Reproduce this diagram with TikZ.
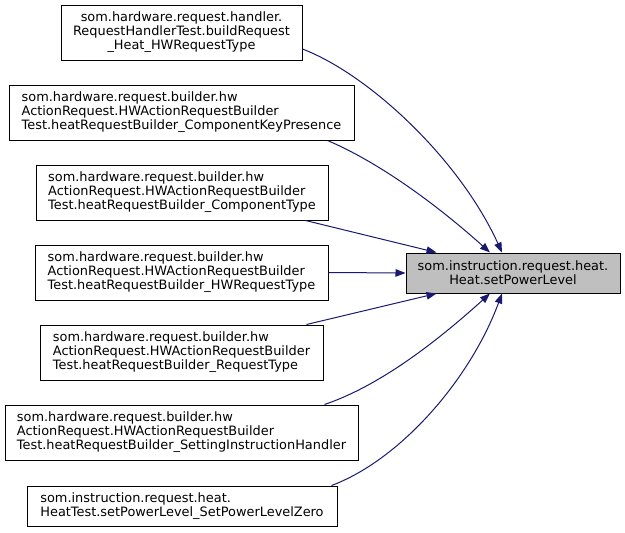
\documentclass[tikz,border=0pt]{standalone}
\usepackage{fontspec}
\setmainfont{DejaVu Sans}
\usepackage{tikz}
\usetikzlibrary{arrows.meta, positioning, calc}

\begin{document}
\begin{tikzpicture}[
    x=1pt, y=-1pt,
    >={Triangle[length=10pt, width=7.5pt]},
    every node/.style={font=\fontsize{12.9}{14}\selectfont},
    caller/.style={draw, rectangle, line width=1pt, fill=white, inner sep=0pt,
                   minimum height=55pt, align=left},
    callee/.style={draw, rectangle, line width=1pt, fill=black!25, inner sep=0pt,
                   minimum height=40pt, minimum width=214pt, align=center},
    edge/.style={->, draw={rgb,255:red,25;green,25;blue,112}, line width=1pt},
]
    \useasboundingbox (0,0) rectangle (625,533);

    % Called function (right)
    \node[callee] (T) at (513,273) {som.instruction.request.heat.\\Heat.setPowerLevel};

    % Callers (left column)
    \node[caller, minimum width=241pt, align=center] (B1) at (181.5,32.5)
        {som.hardware.request.handler.\\RequestHandlerTest.buildRequest\\\_Heat\_HWRequestType};
    \node[caller, minimum width=345pt] (B2) at (181.5,112.5)
        {som.hardware.request.builder.hw\\ActionRequest.HWActionRequestBuilder\\Test.heatRequestBuilder\_ComponentKeyPresence};
    \node[caller, minimum width=292pt] (B3) at (182,192.5)
        {som.hardware.request.builder.hw\\ActionRequest.HWActionRequestBuilder\\Test.heatRequestBuilder\_ComponentType};
    \node[caller, minimum width=293pt] (B4) at (181.5,272.5)
        {som.hardware.request.builder.hw\\ActionRequest.HWActionRequestBuilder\\Test.heatRequestBuilder\_HWRequestType};
    \node[caller, minimum width=283pt] (B5) at (181.5,352.5)
        {som.hardware.request.builder.hw\\ActionRequest.HWActionRequestBuilder\\Test.heatRequestBuilder\_RequestType};
    \node[caller, minimum width=353pt] (B6) at (181.5,432.5)
        {som.hardware.request.builder.hw\\ActionRequest.HWActionRequestBuilder\\Test.heatRequestBuilder\_SettingInstructionHandler};
    \node[caller, minimum width=310pt, minimum height=40pt] (B7) at (182,506)
        {som.instruction.request.heat.\\HeatTest.setPowerLevel\_SetPowerLevelZero};

    % Calls
    \draw[edge] ($(B1.east)+(0,16.5)$) .. controls (370,75) and (460,160) .. ($(T.north)+(-11,0)$);
    \draw[edge] ($(B2.south east)+(-27,0)$) .. controls (385,165) and (445,212) .. ($(T.north)+(-23,0)$);
    \draw[edge] ($(B3.south east)+(-23,0)$) -- ($(T.north west)+(31,0)$);
    \draw[edge] (B4.east) -- (T.west);
    \draw[edge] ($(B5.north east)+(-17,0)$) -- ($(T.south west)+(31,0)$);
    \draw[edge] ($(B6.north east)+(-34,0)$) .. controls (385,384) and (445,334) .. ($(T.south)+(-23,0)$);
    \draw[edge] ($(B7.north east)+(-6,0)$) .. controls (400,460) and (470,380) .. ($(T.south)+(-11,0)$);
\end{tikzpicture}
\end{document}
